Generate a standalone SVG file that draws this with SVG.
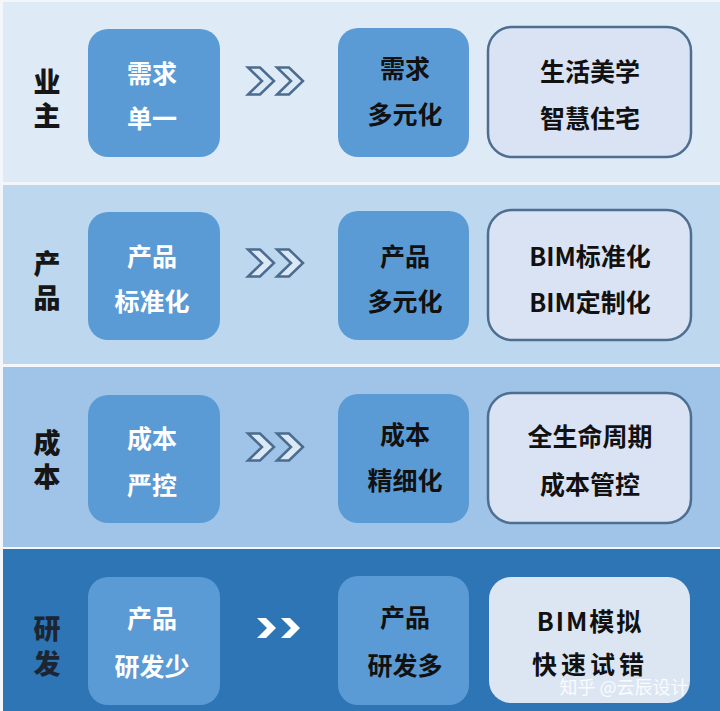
<svg xmlns="http://www.w3.org/2000/svg" width="720" height="711" viewBox="0 0 720 711">
<defs>
<style>
.t{font-family:"Noto Sans CJK SC","Noto Sans",sans-serif;font-weight:700;font-size:25px;text-anchor:middle;dominant-baseline:central}
.w{fill:#ffffff}
.k{fill:#111111}
.lab{font-family:"Noto Sans CJK SC",serif;font-weight:900;font-size:27px;text-anchor:middle;dominant-baseline:central;fill:#161616}
.ba{fill:#5b9bd5}
.bc{fill:#dae3f3;stroke:#4e6e91;stroke-width:2.5}
.chev{fill:#dbe8f5;stroke:#4b6c8f;stroke-width:2.5;stroke-linejoin:miter}
</style>
<g id="chevpair">
<path class="chev" d="M-26,-13.5 L-14,-13.5 L0,0 L-14,13.5 L-26,13.5 L-12,0 Z"/>
<path class="chev" d="M3,-13.5 L15,-13.5 L29,0 L15,13.5 L3,13.5 L17,0 Z"/>
</g>
</defs>
<rect x="0" y="0" width="720" height="711" fill="#f3f7fb"/>
<g id="bands">
<rect x="3" y="2" width="717" height="180" fill="#deebf7"/>
<rect x="3" y="185" width="717" height="179" fill="#bdd7ee"/>
<rect x="3" y="367" width="717" height="180" fill="#9fc4e7"/>
<rect x="3" y="549" width="717" height="162" fill="#2e75b6"/>
</g>
<g id="connectors">
<use href="#chevpair" x="274" y="81"/>
<use href="#chevpair" x="274" y="263"/>
<use href="#chevpair" x="274" y="447"/>
<g fill="#ffffff">
<path d="M257,618 L266,618 L276,628 L266,638 L257,638 L267,628 Z"/>
<path d="M281,618 L290,618 L300,628 L290,638 L281,638 L291,628 Z"/>
</g>
</g>
<g id="row1">
<text class="lab"><tspan x="47" y="80">业</tspan><tspan x="47" y="114">主</tspan></text>
<g id="n1a"><rect class="ba" x="88" y="29" width="132" height="128" rx="20"/><text class="t w" x="152" y="72">需求</text><text class="t w" x="152" y="117">单一</text></g>
<g id="n1b"><rect class="ba" x="338" y="28" width="131" height="129" rx="20"/><text class="t k" x="405" y="67">需求</text><text class="t k" x="405" y="113">多元化</text></g>
<g id="n1c"><rect class="bc" x="488" y="27" width="203" height="130" rx="24"/><text class="t k" x="590" y="70">生活美学</text><text class="t k" x="590" y="117">智慧住宅</text></g>
</g>
<g id="row2">
<text class="lab"><tspan x="47" y="262">产</tspan><tspan x="47" y="296">品</tspan></text>
<g id="n2a"><rect class="ba" x="88" y="212" width="132" height="128" rx="20"/><text class="t w" x="152" y="255">产品</text><text class="t w" x="152" y="300">标准化</text></g>
<g id="n2b"><rect class="ba" x="338" y="211" width="131" height="129" rx="20"/><text class="t k" x="405" y="255">产品</text><text class="t k" x="405" y="300">多元化</text></g>
<g id="n2c"><rect class="bc" x="488" y="210" width="203" height="130" rx="24"/><text class="t k" x="590" y="255">BIM标准化</text><text class="t k" x="590" y="301">BIM定制化</text></g>
</g>
<g id="row3">
<text class="lab"><tspan x="47" y="441">成</tspan><tspan x="47" y="475">本</tspan></text>
<g id="n3a"><rect class="ba" x="88" y="395" width="132" height="128" rx="20"/><text class="t w" x="152" y="437">成本</text><text class="t w" x="152" y="484">严控</text></g>
<g id="n3b"><rect class="ba" x="338" y="394" width="131" height="129" rx="20"/><text class="t k" x="405" y="433">成本</text><text class="t k" x="405" y="479">精细化</text></g>
<g id="n3c"><rect class="bc" x="488" y="393" width="203" height="130" rx="24"/><text class="t k" x="590" y="435">全生命周期</text><text class="t k" x="590" y="483">成本管控</text></g>
</g>
<g id="row4">
<text class="lab" fill="#1c2633" style="fill:#1c2633"><tspan x="47" y="627">研</tspan><tspan x="47" y="662">发</tspan></text>
<g id="n4a"><rect class="ba" x="88" y="577" width="132" height="128" rx="20"/><text class="t w" x="152" y="617">产品</text><text class="t w" x="152" y="665">研发少</text></g>
<g id="n4b"><rect class="ba" x="338" y="576" width="131" height="129" rx="20"/><text class="t k" x="405" y="616">产品</text><text class="t k" x="405" y="664">研发多</text></g>
<g id="n4c"><rect x="489" y="577" width="201" height="126" rx="22" fill="#dce6f2"/><text class="t k" x="590" y="620" letter-spacing="2">BIM模拟</text><text class="t k" x="590" y="663" letter-spacing="4">快速试错</text></g>
</g>
<text x="624" y="686" font-family="Noto Sans CJK SC,sans-serif" font-size="18" text-anchor="middle" dominant-baseline="central" fill="#ffffff" fill-opacity="0.85">知乎 @云辰设计</text>
</svg>
